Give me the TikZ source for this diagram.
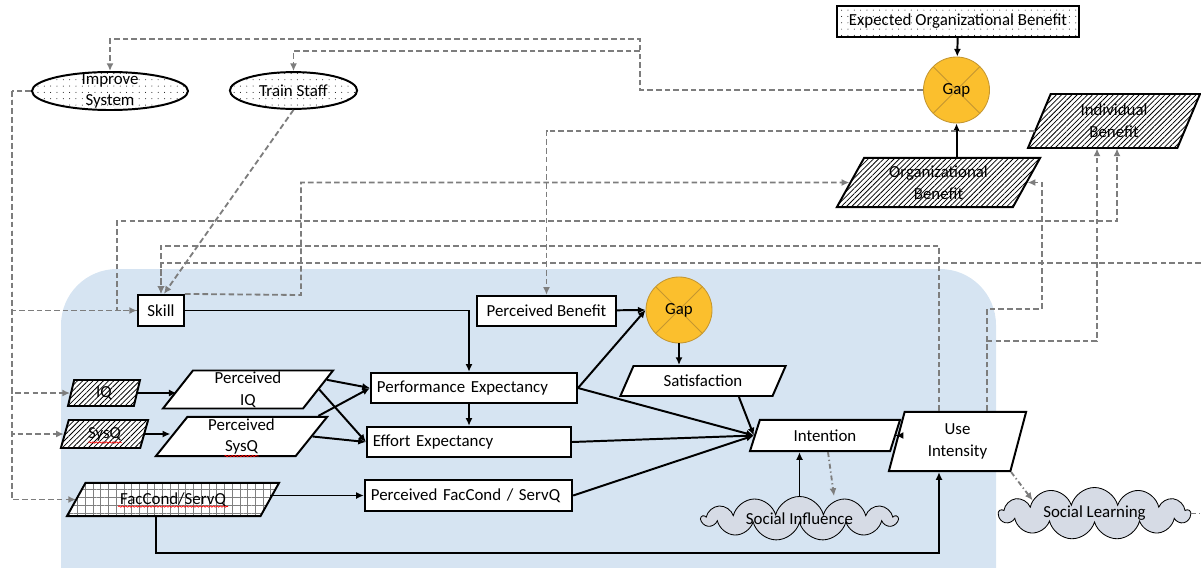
\documentclass[tikz,border=0pt]{standalone}
\usepackage{fontspec}
\setmainfont{Carlito}
\usetikzlibrary{shapes.geometric,shapes.symbols,arrows.meta,patterns.meta,decorations.pathmorphing}

\definecolor{bgblue}{RGB}{214,228,242}
\definecolor{gapfill}{RGB}{251,191,45}
\definecolor{gapline}{RGB}{196,150,48}
\definecolor{cloudfill}{RGB}{214,219,229}
\definecolor{fbgray}{RGB}{125,125,125}

\begin{document}
\begin{tikzpicture}[x=0.025cm,y=-0.025cm,
        every node/.style={font=\fontsize{12}{15.5}\selectfont, align=center},
        link/.style={line width=1.4pt, -{Latex[length=5.5pt,width=5pt]}},
        fb/.style={fbgray, line width=1.3pt, dash pattern=on 4pt off 2.2pt, -{Latex[length=5.5pt,width=5pt]}},
        fbdot/.style={fb, dash pattern=on 3.5pt off 2pt on 0.9pt off 2pt},
        squig/.style={red, line width=0.5pt, decorate, decoration={snake, amplitude=0.5pt, segment length=2.4pt}},
        box/.style={draw, line width=1.4pt, fill=white, inner sep=0pt, minimum height=0.76cm},
        lbox/.style={box, align=left, inner xsep=0.15cm, text width=#1},
        para/.style={trapezium, trapezium left angle=#1, trapezium right angle={180-#1},
            trapezium stretches body, draw, line width=1.4pt, fill=white, inner sep=0pt},
        hatchfill/.style={preaction={fill=white}, pattern={Lines[angle=45,distance=2.6pt,line width=0.55pt]}},
        dotfill/.style={preaction={fill=white}, pattern={Dots[distance=4.5pt,radius=0.35pt]}},
        gridfill/.style={preaction={fill=white}, pattern={Hatch[angle=0,distance=5.5pt,line width=0.3pt]}, pattern color=gray},
        gap/.style={circle, draw=gapline, line width=0.6pt, fill=gapfill, minimum size=1.65cm, inner sep=0pt,
            path picture={\draw[gapline, line width=0.7pt]
                (path picture bounding box.north west) -- (path picture bounding box.south east)
                (path picture bounding box.north east) -- (path picture bounding box.south west);}},
        plan/.style={ellipse, draw, line width=1.4pt, dotfill, inner sep=0pt},
        puff/.style={cloud, cloud puffs=13, cloud ignores aspect, draw, line width=0.6pt, fill=cloudfill, inner sep=0pt}]
    \useasboundingbox (0,0) rectangle (1201,567);
    \fill[bgblue, rounded corners=1.4cm] (61,269) rectangle (996,650);

    % organisation level
    \node[box, dotfill, minimum width=6.03cm, minimum height=0.78cm] (expect) at (958,21.5) {Expected Organizational Benefit};
    \node[gap] (topgap) at (956.5,90) {Gap};
    \node[para=56, hatchfill, minimum width=4.3cm, minimum height=1.35cm] (indiv) at (1114,121) {Individual\\Benefit};
    \node[para=51, hatchfill, minimum width=5.08cm, minimum height=1.23cm] (org) at (938.5,182.5) {Organizational\\Benefit};

    % interventions
    \node[plan, minimum width=3.9cm, minimum height=0.95cm, label={center:Improve\\System}] (improve) at (110,91) {};
    \node[plan, minimum width=3.18cm, minimum height=0.92cm] (train) at (293.5,90.5) {Train Staff};

    % acceptance model
    \node[box, minimum width=1.15cm, minimum height=0.78cm] (skill) at (161,310.5) {Skill};
    \node[box, minimum width=3.48cm] (pben) at (546.5,311) {Perceived Benefit};
    \node[gap] (midgap) at (679,310) {Gap};
    \node[lbox=4.85cm] (perf) at (474,388) {Performance Expectancy};
    \node[lbox=4.8cm] (effort) at (469,442) {Effort Expectancy};
    \node[lbox=4.88cm, minimum height=0.78cm] (pfac) at (468.5,495.5) {Perceived FacCond / ServQ};
    \node[para=42, minimum width=4.13cm, minimum height=0.75cm] (satisf) at (703,381) {Satisfaction};
    \node[para=50, minimum width=3.75cm, minimum height=0.78cm] (intention) at (825,435.5) {Intention};
    \node[para=66, minimum width=3.43cm, minimum height=1.48cm] (use) at (957.5,441.5) {Use\\Intensity};
    \node[para=65, hatchfill, minimum width=1.8cm, minimum height=0.65cm] (iq) at (104,393) {IQ};
    \node[para=60, hatchfill, minimum width=2.18cm, minimum height=0.7cm] (sysq) at (104.5,434) {SysQ};
    \node[para=50, minimum width=4.25cm, minimum height=0.95cm] (piq) at (248,389.5) {Perceived\\IQ};
    \node[para=49, minimum width=4.28cm, minimum height=0.98cm] (psysq) at (241.5,436.5) {Perceived\\SysQ};
    \node[para=37, gridfill, minimum width=5.3cm, minimum height=0.83cm] (fac) at (173,499.5) {FacCond/ServQ};
    \node[puff, minimum width=4.88cm, minimum height=1.08cm] (socinf) at (799.5,518.5) {Social Influence};
    \node[puff, minimum width=4.78cm, minimum height=1.3cm] (soclearn) at (1094.5,513.5) {Social Learning};

    % spell-check marks under the abbreviations
    \draw[squig] ([shift={(-16,8.5)}]sysq.center) -- ++(33,0);
    \draw[squig] ([shift={(-17,19.5)}]psysq.center) -- ++(34,0);
    \draw[squig] ([shift={(-55,7)}]fac.center) -- ++(110,0);

    % solid paths
    \draw[link] (expect) -- (topgap);
    \draw[link] (topgap |- org.north) -- (topgap);
    \draw[link] (iq.east) -- (iq.east -| piq.west);
    \draw[link] (sysq.east) -- (sysq.east -| psysq.west);
    \draw[link] (piq.7) -- (perf.west);
    \draw[link] (piq.east) -- (effort.west);
    \draw[link] (psysq.15) -- (perf.west);
    \draw[link] (psysq.east) -- (effort.west);
    \draw[link] (fac.east |- pfac.west) -- (pfac.west);
    \draw[link] (skill) -| (effort |- perf.north);
    \draw[link] (effort |- perf.south) -- (effort);
    \draw[link] (pben) -- (midgap.west);
    \draw[link] (perf.east) -- (midgap.west);
    \draw[link] (midgap) -- (midgap |- satisf.north);
    \foreach \src in {perf.east, effort.east, pfac.east, satisf.-24}
        \draw[link] (\src) -- (intention.west);
    \draw[link] (socinf.north) -- (socinf.north |- intention.south);
    \draw[link] (intention.east) -- (intention.east -| use.west);
    \draw[link] (fac.south -| 156,0) -- (156,553) -| (use.south -| 939,0);

    % feedback loops
    \draw[fb] (topgap.west) -- (640,90) -- (640,39) -| (improve.north);
    \draw[fb] (640,51) -| (train.north);
    \coordinate (spine) at (12,91);
    \draw[fb, -] (improve.west) -- (spine);
    \foreach \dst in {skill, iq, sysq, fac}
        \draw[fb] (spine) |- (\dst);
    \draw[fb] (train.south) -- (skill.80);
    \draw[fb] (skill.north east) -- (301,295) |- (org);
    \draw[fb] (skill.west) -- (117,310.5) -- (117,221) -| (indiv.south -| 1117,0);
    \draw[fb] (indiv.187) -| (pben);
    \draw[fb] (use.north -| 939,0) -- (939,246) -| (skill.north);
    \coordinate (edgeR) at (1201,263);
    \draw[fb] (edgeR) -| (skill.north);
    \draw[fb] (use.north -| 987,0) |- (1042,309) |- (org);
    \draw[fb] (use.north -| 987,0) |- (1097,341) -- (indiv.south -| 1097,0);
    \draw[fbdot] (intention.south -| 828,0) -- (834,0 |- socinf.north);
    \draw[fbdot] (use.bottom right corner) -- (soclearn.168);
    \draw[fbdot, -] (soclearn.east) -- (soclearn.east -| edgeR);
\end{tikzpicture}
\end{document}
